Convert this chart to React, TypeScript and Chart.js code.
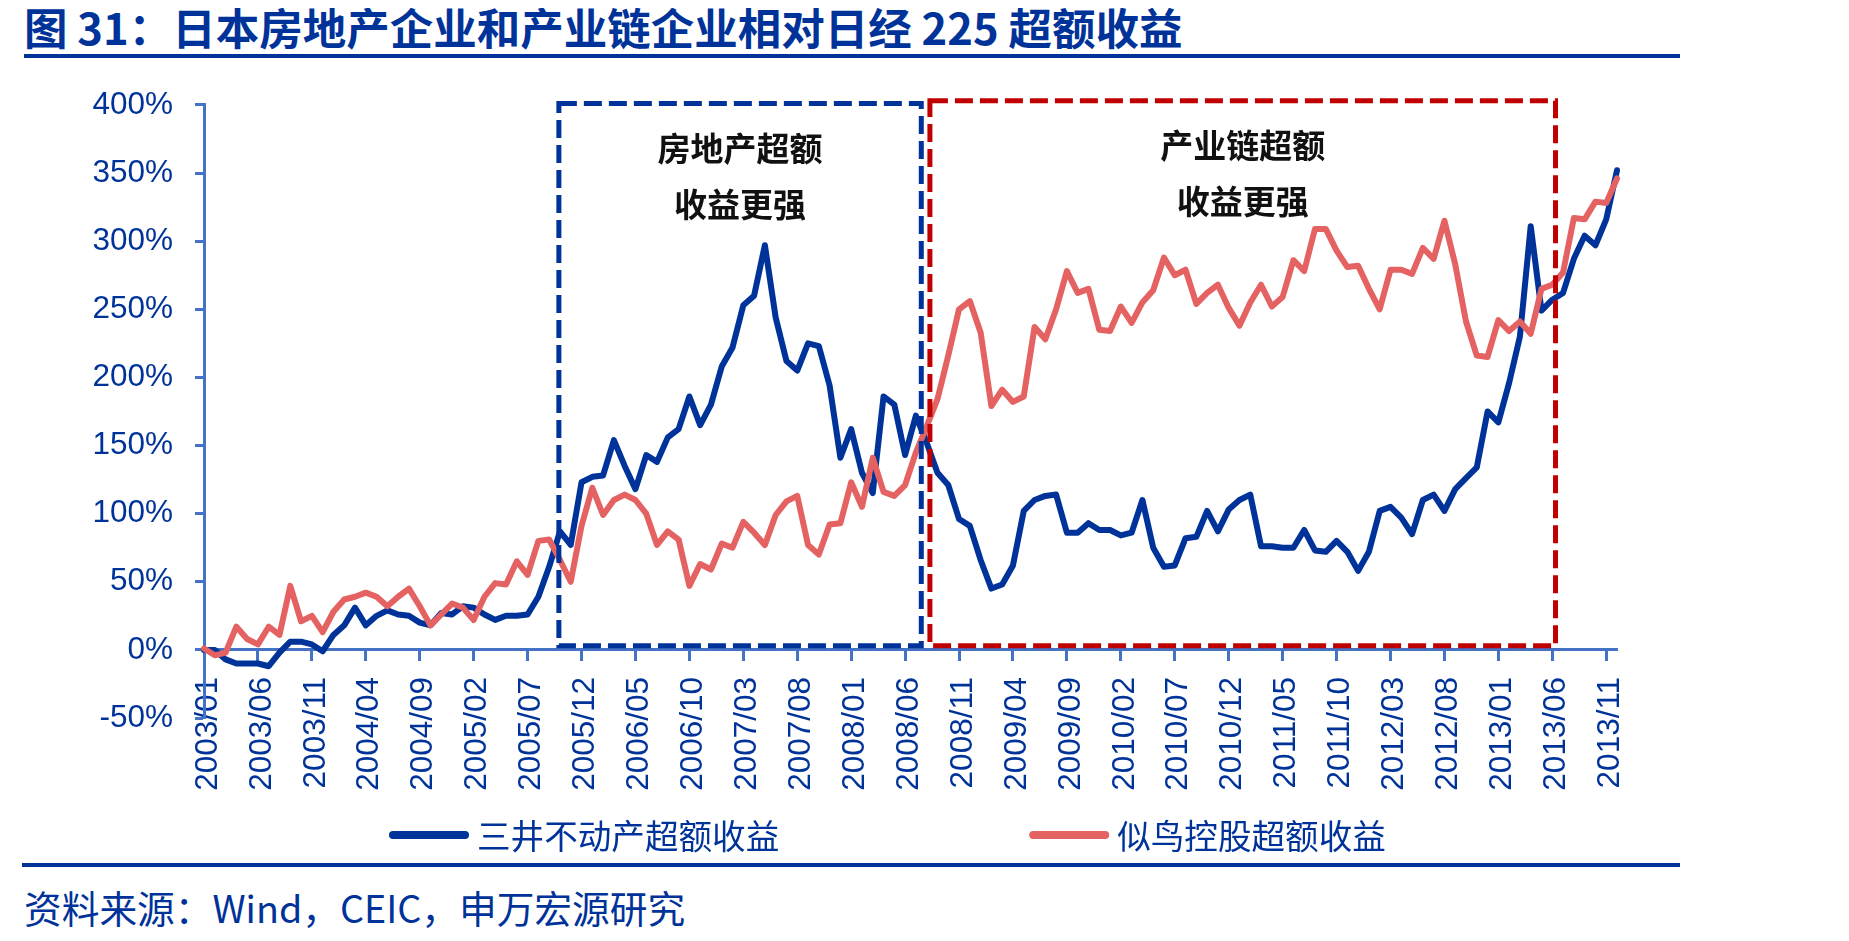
import React, { useEffect, useRef } from "react";
import { Chart, registerables } from "chart.js";

Chart.register(...registerables);

// ---------- data ----------
const months: string[] = [
  "2003/01","2003/02","2003/03","2003/04","2003/05","2003/06","2003/07","2003/08","2003/09","2003/10","2003/11","2003/12",
  "2004/01","2004/02","2004/03","2004/04","2004/05","2004/06","2004/07","2004/08","2004/09","2004/10","2004/11","2004/12",
  "2005/01","2005/02","2005/03","2005/04","2005/05","2005/06","2005/07","2005/08","2005/09","2005/10","2005/11","2005/12",
  "2006/01","2006/02","2006/03","2006/04","2006/05","2006/06","2006/07","2006/08","2006/09","2006/10","2006/11","2006/12",
  "2007/01","2007/02","2007/03","2007/04","2007/05","2007/06","2007/07","2007/08","2007/09","2007/10","2007/11","2007/12",
  "2008/01","2008/02","2008/03","2008/04","2008/05","2008/06","2008/07","2008/08","2008/09","2008/10","2008/11","2008/12",
  "2009/01","2009/02","2009/03","2009/04","2009/05","2009/06","2009/07","2009/08","2009/09","2009/10","2009/11","2009/12",
  "2010/01","2010/02","2010/03","2010/04","2010/05","2010/06","2010/07","2010/08","2010/09","2010/10","2010/11","2010/12",
  "2011/01","2011/02","2011/03","2011/04","2011/05","2011/06","2011/07","2011/08","2011/09","2011/10","2011/11","2011/12",
  "2012/01","2012/02","2012/03","2012/04","2012/05","2012/06","2012/07","2012/08","2012/09","2012/10","2012/11","2012/12",
  "2013/01","2013/02","2013/03","2013/04","2013/05","2013/06","2013/07","2013/08","2013/09","2013/10","2013/11","2013/12",
];

const xTickLabels: string[] = [
  "2003/01","2003/06","2003/11","2004/04","2004/09","2005/02","2005/07","2005/12","2006/05",
  "2006/10","2007/03","2007/08","2008/01","2008/06","2008/11","2009/04","2009/09","2010/02",
  "2010/07","2010/12","2011/05","2011/10","2012/03","2012/08","2013/01","2013/06","2013/11",
];

const yTickValues: number[] = [-50, 0, 50, 100, 150, 200, 250, 300, 350, 400];

// 三井不动产超额收益 (%)
const mitsuiExcess: number[] = [
  0, 0, -7, -10, -10, -10, -12, -2, 6, 6, 4, -1,
  11, 18, 31, 18, 25, 29, 26, 25, 20, 18, 27, 26,
  32, 31, 26, 22, 25, 25, 26, 39, 61, 87, 77, 123,
  127, 128, 154, 135, 118, 143, 138, 156, 162, 186, 165, 180,
  208, 222, 253, 260, 297, 244, 212, 205, 225, 223, 194, 141,
  162, 130, 115, 186, 180, 143, 172, 152, 130, 121, 96, 91,
  66, 45, 48, 62, 102, 110, 113, 114, 86, 86, 93, 88,
  88, 84, 86, 110, 75, 61, 62, 82, 83, 102, 87, 103,
  110, 114, 76, 76, 75, 75, 88, 73, 72, 80, 72, 58,
  72, 102, 105, 97, 85, 110, 114, 102, 118, 126, 134, 175,
  167, 196, 230, 311, 249, 257, 262, 287, 304, 297, 316, 352,
];

// 似鸟控股超额收益 (%)
const nitoriExcess: number[] = [
  1, -4, -2, 17, 8, 4, 17, 11, 47, 21, 25, 13,
  28, 37, 39, 42, 39, 32, 39, 45, 32, 18, 26, 34,
  31, 22, 39, 49, 48, 65, 55, 80, 81, 66, 50, 91,
  119, 99, 110, 114, 110, 100, 77, 87, 81, 47, 63, 59,
  78, 75, 94, 86, 77, 99, 109, 113, 77, 70, 92, 93,
  123, 105, 141, 116, 113, 121, 145, 164, 184, 216, 250, 256,
  233, 179, 191, 182, 186, 237, 228, 250, 278, 262, 265, 235,
  234, 252, 240, 255, 264, 288, 275, 279, 254, 262, 268, 251,
  238, 255, 268, 252, 259, 286, 278, 309, 309, 293, 281, 282,
  265, 250, 279, 279, 276, 295, 287, 315, 283, 241, 216, 215,
  242, 234, 241, 232, 265, 268, 277, 317, 316, 329, 328, 346,
];

const seriesNames: string[] = ["三井不动产超额收益", "似鸟控股超额收益"];

// highlighted periods (month-index range, % range) and their captions
const periodStart: number[] = [32.9, 67.3];
const periodEnd: number[] = [66.5, 125.3];
const periodTop: number[] = [401, 403];
const periodBottom: number[] = [3, 3];
const periodCaptions: string[][] = [
  ["房地产超额", "收益更强"],
  ["产业链超额", "收益更强"],
];

// ---------- styles ----------
const BLUE = "#003399";
const RED = "#E46262";
const AXIS = "#4472C4";
const TEXT_BLUE = "#003399";
const BOX_COLORS = ["#003399", "#C00000"];
const LATIN = "'Liberation Sans', Arial, sans-serif";
const CJK = "'Noto Sans CJK SC', 'Noto Sans', sans-serif";

const overlayPlugin = {
  id: "overlay",
  afterDatasetsDraw(chart: any) {
    const { ctx } = chart;
    const xs = chart.scales.x;
    const ys = chart.scales.y;
    ctx.save();
    for (let k = 0; k < periodStart.length; k++) {
      const l = xs.getPixelForValue(periodStart[k]);
      const r = xs.getPixelForValue(periodEnd[k]);
      const t = ys.getPixelForValue(periodTop[k]);
      const b = ys.getPixelForValue(periodBottom[k]);
      ctx.setLineDash([18, 7]);
      ctx.lineWidth = 5;
      ctx.lineCap = "butt";
      ctx.strokeStyle = BOX_COLORS[k];
      ctx.strokeRect(l, t, r - l, b - t);
      ctx.setLineDash([]);
      ctx.fillStyle = "#111111";
      ctx.font = `bold 33px ${CJK}`;
      ctx.textAlign = "center";
      ctx.textBaseline = "middle";
      const cx = (l + r) / 2;
      periodCaptions[k].forEach((line, j) => {
        ctx.fillText(line, cx, t + 45 + j * 56);
      });
    }
    ctx.restore();
  },
  afterDraw(chart: any) {
    const { ctx } = chart;
    ctx.save();
    let x = 381;
    const y = 771;
    ctx.font = `33.6px ${CJK}`;
    ctx.textAlign = "left";
    ctx.textBaseline = "middle";
    chart.data.datasets.forEach((ds: any) => {
      ctx.strokeStyle = ds.borderColor;
      ctx.lineWidth = 8;
      ctx.lineCap = "round";
      ctx.beginPath();
      ctx.moveTo(x + 4, y);
      ctx.lineTo(x + 76, y);
      ctx.stroke();
      ctx.fillStyle = TEXT_BLUE;
      ctx.fillText(ds.label, x + 88, y + 1);
      x += 88 + ctx.measureText(ds.label).width + 250;
    });
    ctx.restore();
  },
};

export default function App() {
  const canvasRef = useRef<HTMLCanvasElement>(null);

  useEffect(() => {
    if (!canvasRef.current) return;
    const chart = new Chart(canvasRef.current, {
      type: "line",
      data: {
        labels: months,
        datasets: [
          {
            label: seriesNames[0],
            data: mitsuiExcess,
            borderColor: BLUE,
            backgroundColor: BLUE,
            borderWidth: 6,
            pointRadius: 0,
            tension: 0,
            borderJoinStyle: "round",
            borderCapStyle: "round",
            order: 0,
          },
          {
            label: seriesNames[1],
            data: nitoriExcess,
            borderColor: RED,
            backgroundColor: RED,
            borderWidth: 6,
            pointRadius: 0,
            tension: 0,
            borderJoinStyle: "round",
            borderCapStyle: "round",
            order: -1,
          },
        ],
      },
      options: {
        responsive: false,
        animation: false,
        layout: { padding: { top: 30, bottom: 146, left: 0, right: 224 } },
        plugins: {
          legend: { display: false },
          tooltip: { enabled: false },
        },
        scales: {
          x: {
            type: "category",
            position: { y: 0 } as any,
            offset: false,
            afterBuildTicks: (s: any) => {
              s.ticks = s.ticks.filter((t: any) => xTickLabels.includes(months[t.value]));
            },
            afterFit: (s: any) => {
              s.height = 0;
            },
            ticks: {
              autoSkip: false,
              minRotation: 90,
              maxRotation: 90,
              padding: 17,
              labelOffset: 4,
              color: TEXT_BLUE,
              font: { family: LATIN, size: 31.5 },
            },
            grid: {
              display: true,
              drawOnChartArea: false,
              drawTicks: true,
              tickLength: 10,
              tickWidth: 3,
              tickColor: AXIS,
            },
            border: { display: true, color: AXIS, width: 3 },
          },
          y: {
            min: -50,
            max: 400,
            afterBuildTicks: (s: any) => {
              s.ticks = yTickValues.map((v) => ({ value: v }));
            },
            afterFit: (s: any) => {
              s.width = 196;
            },
            ticks: {
              padding: 22,
              color: TEXT_BLUE,
              font: { family: LATIN, size: 31.5 },
              callback: (v: any) => `${v}%`,
            },
            grid: {
              display: true,
              drawOnChartArea: false,
              drawTicks: true,
              tickLength: 9,
              tickWidth: 3,
              tickColor: AXIS,
            },
            border: { display: true, color: AXIS, width: 3 },
          },
        },
      },
      plugins: [overlayPlugin],
    } as any);
    return () => chart.destroy();
  }, []);

  return (
    <div style={{ position: "relative", width: 1833, height: 925, overflow: "hidden" }}>
      <div
        style={{
          position: "absolute",
          left: 16,
          top: -3,
          fontFamily: CJK,
          fontWeight: 700,
          fontSize: 43.5,
          lineHeight: "44px",
          color: TEXT_BLUE,
          whiteSpace: "nowrap",
        }}
      >
        图 31：日本房地产企业和产业链企业相对日经 225 超额收益
      </div>
      <div style={{ position: "absolute", left: 16, top: 46, width: 1656, height: 4, background: BLUE }} />
      <canvas
        ref={canvasRef}
        width={1833}
        height={800}
        style={{ position: "absolute", left: 0, top: 56, width: 1833, height: 800 }}
      />
      <div style={{ position: "absolute", left: 14, top: 855, width: 1658, height: 4, background: BLUE }} />
      <div
        style={{
          position: "absolute",
          left: 16,
          top: 880,
          fontFamily: CJK,
          fontSize: 37.7,
          lineHeight: "38px",
          color: TEXT_BLUE,
          whiteSpace: "nowrap",
        }}
      >
        资料来源：Wind，CEIC，申万宏源研究
      </div>
    </div>
  );
}
